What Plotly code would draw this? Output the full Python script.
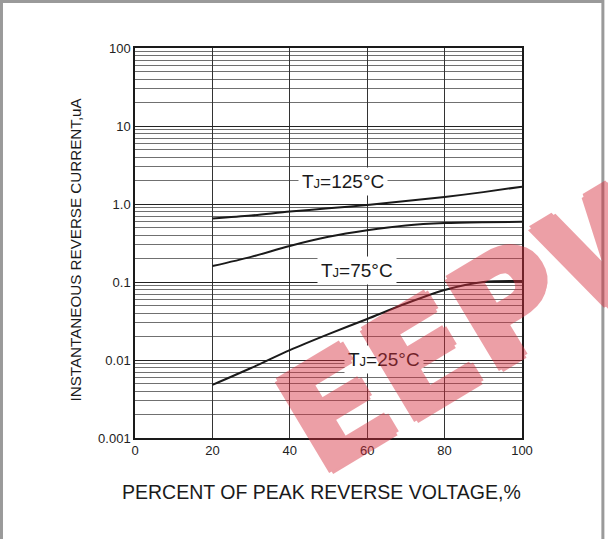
import math
import plotly.graph_objects as go

# ---- data ----
x_vals = [20, 30, 40, 50, 60, 70, 80, 90, 100]
i_125 = [0.65, 0.71, 0.80, 0.88, 0.97, 1.09, 1.23, 1.42, 1.67]
i_75 = [0.16, 0.21, 0.29, 0.38, 0.46, 0.53, 0.57, 0.585, 0.59]
i_25 = [0.0048, 0.0079, 0.0134, 0.0215, 0.0336, 0.053, 0.079, 0.100, 0.103]

x_ticks = [0, 20, 40, 60, 80, 100]
y_ticks = [0.001, 0.01, 0.1, 1, 10, 100]
y_ticktext = ["0.001", "0.01", "0.1", "1.0", "10", "100"]

labels = ["T<span style='font-size:13px'>J</span>=125°C",
          "T<span style='font-size:13px'>J</span>=75°C",
          "T<span style='font-size:13px'>J</span>=25°C"]
label_x = [53.8, 57.4, 64.4]
label_y = [1.97, 0.140, 0.0103]

minor_vals = [m * 10 ** e for e in range(-3, 2) for m in range(2, 10)]

fig = go.Figure()
for ys in (i_125, i_75, i_25):
    fig.add_trace(go.Scatter(x=x_vals, y=ys, mode="lines",
                             line=dict(color="#1a1a1a", width=2, shape="spline", smoothing=0.8),
                             showlegend=False, hoverinfo="skip"))

font_main = "Liberation Sans, Arial, sans-serif"

annotations = []
for t, lx, ly in zip(labels, label_x, label_y):
    annotations.append(dict(x=lx, y=math.log10(ly), yref="y", xref="x", text=t, showarrow=False,
                            font=dict(family=font_main, size=19, color="#1a1a1a"),
                            bgcolor="white", borderpad=3, xanchor="center", yanchor="middle"))
annotations.append(dict(xref="paper", yref="paper", x=0.4824, y=-0.1377,
                        text="PERCENT OF PEAK REVERSE VOLTAGE,%", showarrow=False,
                        font=dict(family=font_main, size=19.5, color="#1a1a1a"),
                        xanchor="center", yanchor="middle"))
annotations.append(dict(xref="paper", yref="paper", x=-0.1537, y=0.482,
                        text="INSTANTANEOUS REVERSE CURRENT,uA", showarrow=False,
                        textangle=-90,
                        font=dict(family=font_main, size=15.2, color="#1a1a1a"),
                        xanchor="center", yanchor="middle"))
# watermark
wm = "rgb(215,45,60)"
annotations.append(dict(xref="paper", yref="paper", x=0.925, y=0.315,
                        text="<b>EEPW</b>", showarrow=False, textangle=-31,
                        font=dict(family="DejaVu Sans", size=145, color=wm,
                                  shadow=f"3px 0 0 {wm}, -3px 0 0 {wm}, 0 3px 0 {wm}, 0 -3px 0 {wm}"),
                        opacity=0.45, xanchor="center", yanchor="middle"))

fig.update_layout(
    width=608, height=539, autosize=False,
    margin=dict(l=135, r=86, t=48, b=101),
    paper_bgcolor="white", plot_bgcolor="white",
    annotations=annotations,
    shapes=[dict(type="rect", xref="paper", yref="paper",
                 x0=-0.345, x1=1.209, y0=-0.274, y1=1.119,
                 line=dict(color="#9a9a9a", width=3), layer="above")],
)
fig.update_xaxes(range=[0, 100], tickvals=x_ticks, showgrid=True, gridcolor="#333333", gridwidth=1,
                 zeroline=False, showline=True, linecolor="#1a1a1a", linewidth=1.5, mirror=True,
                 ticks="", tickfont=dict(family=font_main, size=13, color="#222222"))
fig.update_yaxes(type="log", range=[-3, 2], tickvals=y_ticks, ticktext=y_ticktext,
                 showgrid=True, gridcolor="#222222", gridwidth=1,
                 minor=dict(tickvals=minor_vals, showgrid=True, gridcolor="#707070", gridwidth=1, ticks=""),
                 zeroline=False, showline=True, linecolor="#1a1a1a", linewidth=1.5, mirror=True,
                 ticks="", tickfont=dict(family=font_main, size=13, color="#222222"))

fig.write_html("out.html", config={"displayModeBar": False},
               post_script="document.body.style.margin='0px';")
